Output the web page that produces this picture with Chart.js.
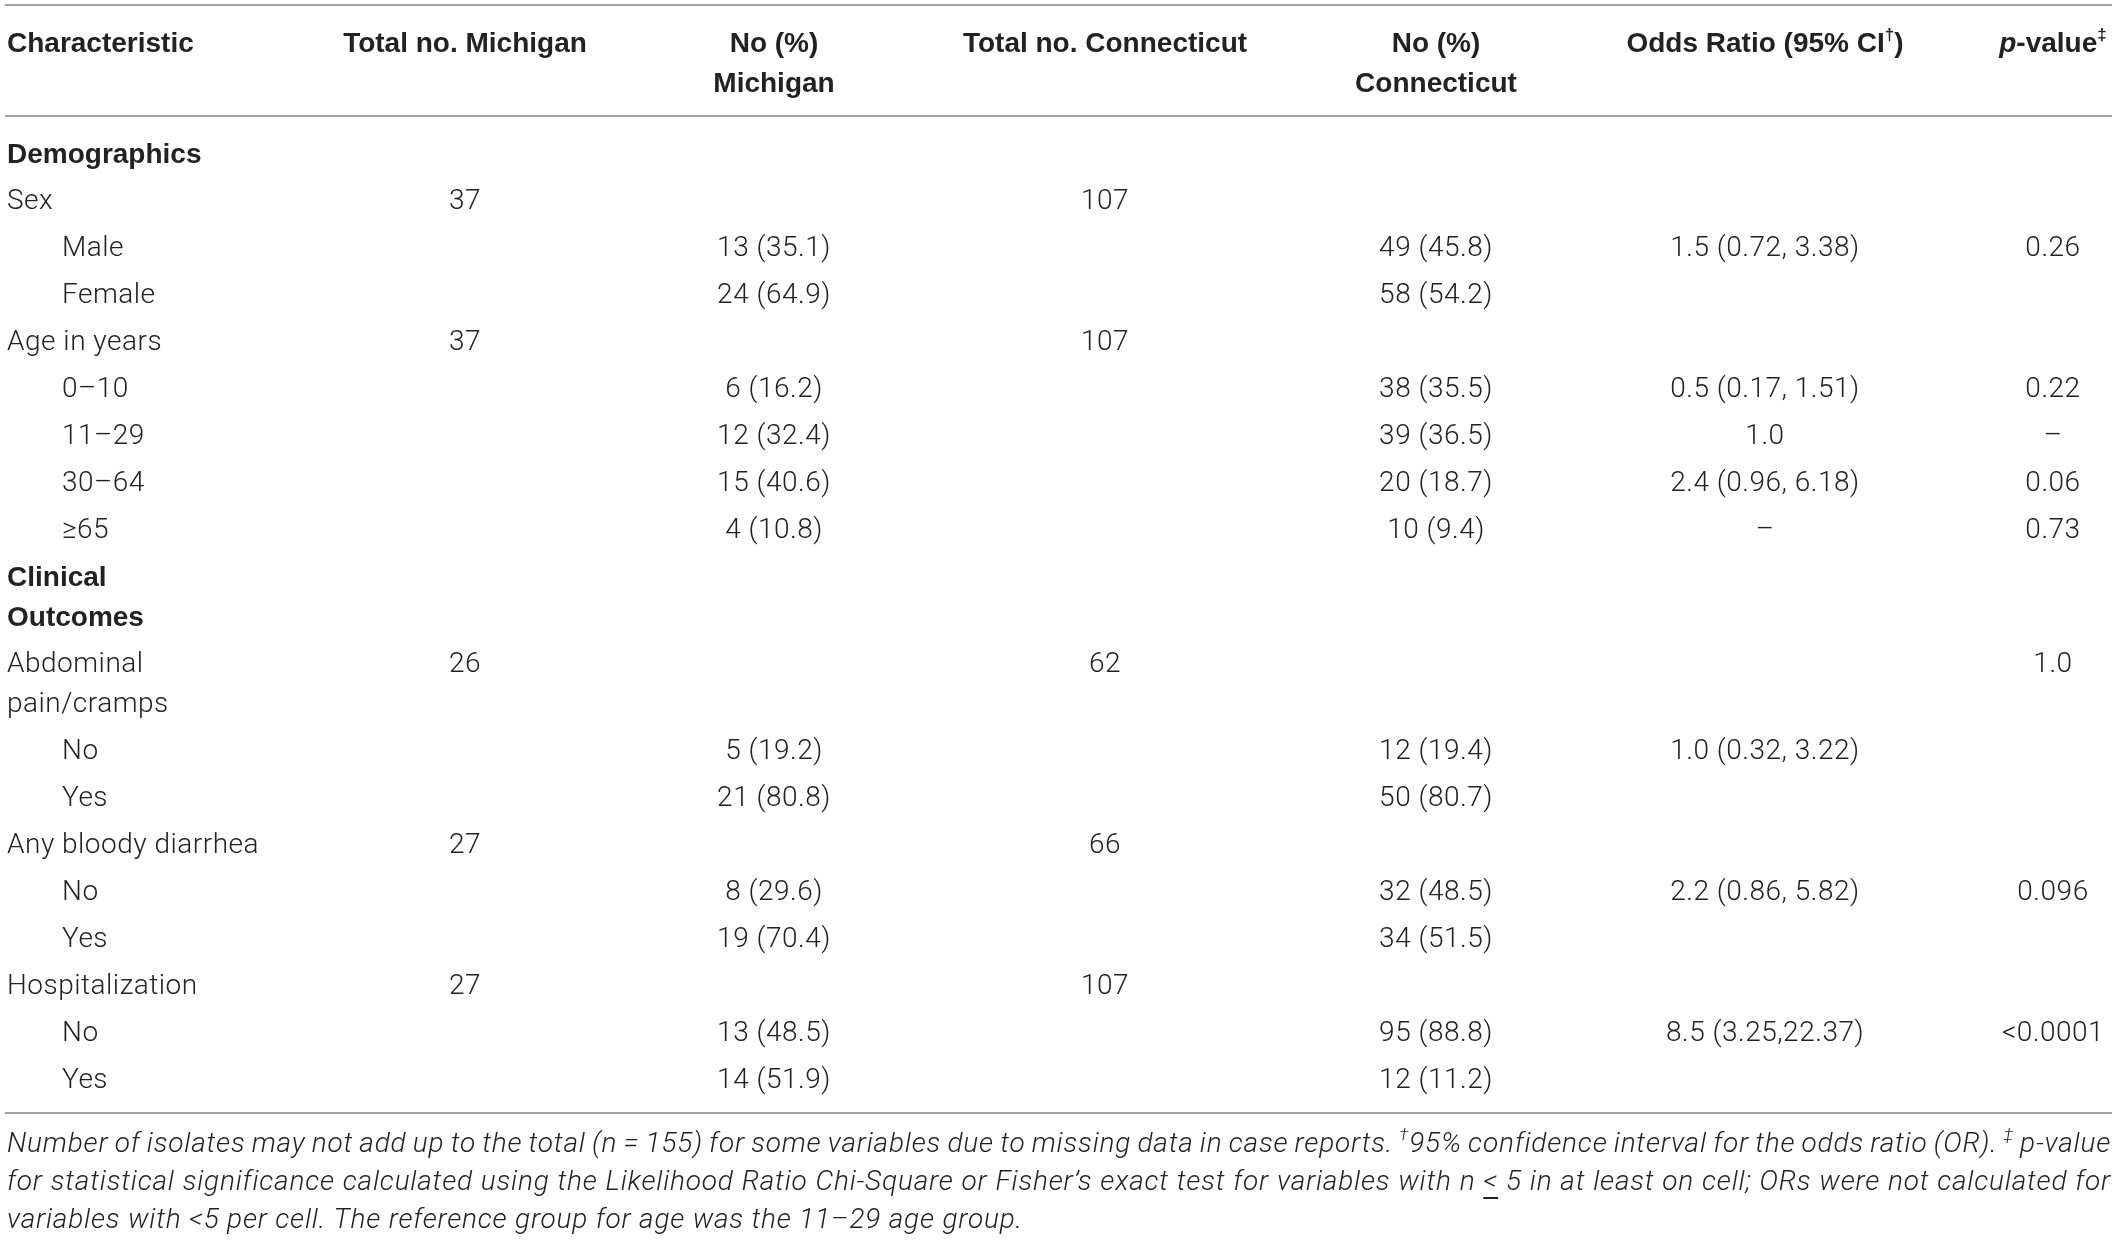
<!DOCTYPE html>
<html>
<head>
<meta charset="utf-8">
<script src="https://cdn.jsdelivr.net/npm/chart.js"></script>
<style>
  html, body { margin: 0; padding: 0; background: #fff; }
  #wrap { width: 2119px; height: 1241px; }
</style>
</head>
<body>
<div id="wrap"><canvas id="tabel"></canvas></div>
<script>
// table data, one entry per row
const rowLabels = [
  "Demographics", "Sex", "Male", "Female", "Age in years", "0–10", "11–29", "30–64", "≥65",
  "Clinical\nOutcomes", "Abdominal\npain/cramps", "No", "Yes", "Any bloody diarrhea", "No", "Yes",
  "Hospitalization", "No", "Yes",
];
// 0 = section heading, 1 = variable, 2 = level of a variable
const rowLevel = [0, 1, 2, 2, 1, 2, 2, 2, 2, 0, 1, 2, 2, 1, 2, 2, 1, 2, 2];
const totalMichigan = [null, 37, null, null, 37, null, null, null, null, null, 26, null, null, 27, null, null, 27, null, null];
const countMichigan = [null, null, 13, 24, null, 6, 12, 15, 4, null, null, 5, 21, null, 8, 19, null, 13, 14];
const pctMichigan = [null, null, 35.1, 64.9, null, 16.2, 32.4, 40.6, 10.8, null, null, 19.2, 80.8, null, 29.6, 70.4, null, 48.5, 51.9];
const totalConnecticut = [null, 107, null, null, 107, null, null, null, null, null, 62, null, null, 66, null, null, 107, null, null];
const countConnecticut = [null, null, 49, 58, null, 38, 39, 20, 10, null, null, 12, 50, null, 32, 34, null, 95, 12];
const pctConnecticut = [null, null, 45.8, 54.2, null, 35.5, 36.5, 18.7, 9.4, null, null, 19.4, 80.7, null, 48.5, 51.5, null, 88.8, 11.2];
const oddsRatio = [null, null, "1.5 (0.72, 3.38)", null, null, "0.5 (0.17, 1.51)", "1.0", "2.4 (0.96, 6.18)", "–",
  null, null, "1.0 (0.32, 3.22)", null, null, "2.2 (0.86, 5.82)", null, null, "8.5 (3.25,22.37)", null];
const pValue = [null, null, "0.26", null, null, "0.22", "–", "0.06", "0.73",
  null, "1.0", null, null, null, "0.096", null, null, "<0.0001", null];

// ^ = superscript, _ = italic, ~ = underline
const headers = [
  ["Characteristic"],
  ["Total no. Michigan"],
  ["No (%)", "Michigan"],
  ["Total no. Connecticut"],
  ["No (%)", "Connecticut"],
  ["Odds Ratio (95% CI^†^)"],
  ["_p_-value^‡^"],
];
const footnote = [
  "Number of isolates may not add up to the total (n = 155) for some variables due to missing data in case reports. ^†^95% confidence interval for the odds ratio (OR). ^‡^ p-value",
  "for statistical significance calculated using the Likelihood Ratio Chi-Square or Fisher’s exact test for variables with n ~<~ 5 in at least on cell; ORs were not calculated for",
  "variables with <5 per cell. The reference group for age was the 11–29 age group.",
];

// layout
const W = 2119, H = 1241;
const COL_X = [7, 465, 774, 1105, 1436, 1765, 2053];
const INDENT = 55;
const HEAD_Y = 44, LINE_STEP = 40, FIRST_ROW_Y = 155, ROW_STEP = 47;
const RULES_Y = [5, 116, 1113];
const RULE_X = [5, 2112];
const FOOT_Y = 1145, FOOT_STEP = 38, FOOT_RIGHT = 2111;
const TEXT = "#222";
const RULE = "#a3a3a3";
const bodyStyle = { family: "Roboto, 'Liberation Sans', sans-serif", weight: 300, size: 28, italic: false, spacing: 0.5 };
const headStyle = { family: "'Liberation Sans', Arial, sans-serif", weight: 700, size: 28, italic: false, spacing: 0 };
const footStyle = { family: "Roboto, 'Liberation Sans', sans-serif", weight: 300, size: 28, italic: true, spacing: 0.8 };

let yy = FIRST_ROW_Y;
const rowY = rowLabels.map((l) => {
  const v = yy;
  yy += ROW_STEP + (l.split("\n").length - 1) * LINE_STEP;
  return v;
});

function cell(vals, fmt) {
  const pts = [];
  vals.forEach((v, i) => {
    if (v === null) return;
    pts.push({ y: rowY[i], text: fmt(v, i) });
  });
  return pts;
}

const headerPts = [];
headers.forEach((lines, c) => {
  lines.forEach((t, k) => headerPts.push({ x: COL_X[c], y: HEAD_Y + k * LINE_STEP, text: t, align: c === 0 ? "left" : "center" }));
});

const labelPts = [];
rowLabels.forEach((l, i) => {
  l.split("\n").forEach((t, k) => {
    labelPts.push({
      x: COL_X[0] + (rowLevel[i] === 2 ? INDENT : 0),
      y: rowY[i] + k * LINE_STEP,
      text: t,
      bold: rowLevel[i] === 0,
    });
  });
});

const colData = [
  cell(totalMichigan, (v) => String(v)),
  cell(countMichigan, (v, i) => v + " (" + pctMichigan[i].toFixed(1) + ")"),
  cell(totalConnecticut, (v) => String(v)),
  cell(countConnecticut, (v, i) => v + " (" + pctConnecticut[i].toFixed(1) + ")"),
  cell(oddsRatio, (v) => v),
  cell(pValue, (v) => v),
];
colData.forEach((pts, c) => pts.forEach((p) => (p.x = COL_X[c + 1])));

const footPts = footnote.map((t, k) => ({ x: COL_X[0], y: FOOT_Y + k * FOOT_STEP, text: t, justify: k < footnote.length - 1 }));

function parseRich(str) {
  const segs = [];
  let cur = "", sup = false, ital = false, und = false;
  const push = () => {
    if (cur) segs.push({ t: cur, sup, ital, und });
    cur = "";
  };
  for (const ch of str) {
    if (ch === "^") { push(); sup = !sup; }
    else if (ch === "_") { push(); ital = !ital; }
    else if (ch === "~") { push(); und = !und; }
    else cur += ch;
  }
  push();
  return segs;
}

function setFont(ctx, seg, st) {
  const size = seg.sup ? Math.round(st.size * 0.62) : st.size;
  ctx.font = (st.italic || seg.ital ? "italic " : "") + st.weight + " " + size + "px " + st.family;
  ctx.letterSpacing = st.spacing + "px";
}

function segsWidth(ctx, segs, st) {
  let w = 0;
  segs.forEach((s) => {
    setFont(ctx, s, st);
    w += ctx.measureText(s.t).width;
  });
  return w;
}

function drawSegs(ctx, segs, x, y, st) {
  let cx = x;
  segs.forEach((s) => {
    setFont(ctx, s, st);
    ctx.fillText(s.t, cx, s.sup ? y - st.size * 0.32 : y);
    const w = ctx.measureText(s.t).width;
    if (s.und) ctx.fillRect(cx, y + st.size * 0.5, w, 2);
    cx += w;
  });
}

function drawText(ctx, raw, x, y, st) {
  if (raw.justify) {
    const words = raw.text.split(" ").map(parseRich);
    const widths = words.map((w) => segsWidth(ctx, w, st));
    const total = widths.reduce((a, b) => a + b, 0);
    const gap = (FOOT_RIGHT - x - total) / (words.length - 1);
    let cx = x;
    words.forEach((w, i) => {
      drawSegs(ctx, w, cx, y, st);
      cx += widths[i] + gap;
    });
    return;
  }
  const segs = parseRich(raw.text);
  const w = segsWidth(ctx, segs, st);
  const align = raw.align || (x > COL_X[0] + INDENT ? "center" : "left");
  drawSegs(ctx, segs, align === "center" ? x - w / 2 : x, y, st);
}

const tablePlugin = {
  id: "tablePlugin",
  afterDatasetsDraw(chart) {
    const ctx = chart.ctx;
    const sx = chart.scales.x, sy = chart.scales.y;
    ctx.save();
    ctx.strokeStyle = RULE;
    ctx.lineWidth = 2;
    RULES_Y.forEach((v) => {
      const y = sy.getPixelForValue(v);
      ctx.beginPath();
      ctx.moveTo(sx.getPixelForValue(RULE_X[0]), y);
      ctx.lineTo(sx.getPixelForValue(RULE_X[1]), y);
      ctx.stroke();
    });
    ctx.fillStyle = TEXT;
    ctx.textBaseline = "middle";
    ctx.textAlign = "left";
    chart.data.datasets.forEach((ds, i) => {
      const meta = chart.getDatasetMeta(i);
      meta.data.forEach((pt, j) => {
        const raw = ds.data[j];
        const st = raw.bold ? headStyle : ds.textStyle;
        drawText(ctx, raw, pt.x, pt.y, st);
      });
    });
    ctx.restore();
  },
};

const mkSet = (label, data, textStyle) => ({ label, data, textStyle, pointRadius: 0, showLine: false });

new Chart(document.getElementById("tabel"), {
  type: "scatter",
  data: {
    datasets: [
      mkSet("header", headerPts, headStyle),
      mkSet("Characteristic", labelPts, bodyStyle),
      ...colData.map((d, c) => mkSet(headers[c + 1].join(" "), d, bodyStyle)),
      mkSet("footnote", footPts, footStyle),
    ],
  },
  options: {
    responsive: true,
    maintainAspectRatio: false,
    animation: false,
    events: [],
    layout: { padding: 0 },
    plugins: { legend: { display: false }, tooltip: { enabled: false } },
    scales: {
      x: { type: "linear", display: false, min: 0, max: W },
      y: { type: "linear", display: false, min: 0, max: H, reverse: true },
    },
  },
  plugins: [tablePlugin],
});
</script>
</body>
</html>
